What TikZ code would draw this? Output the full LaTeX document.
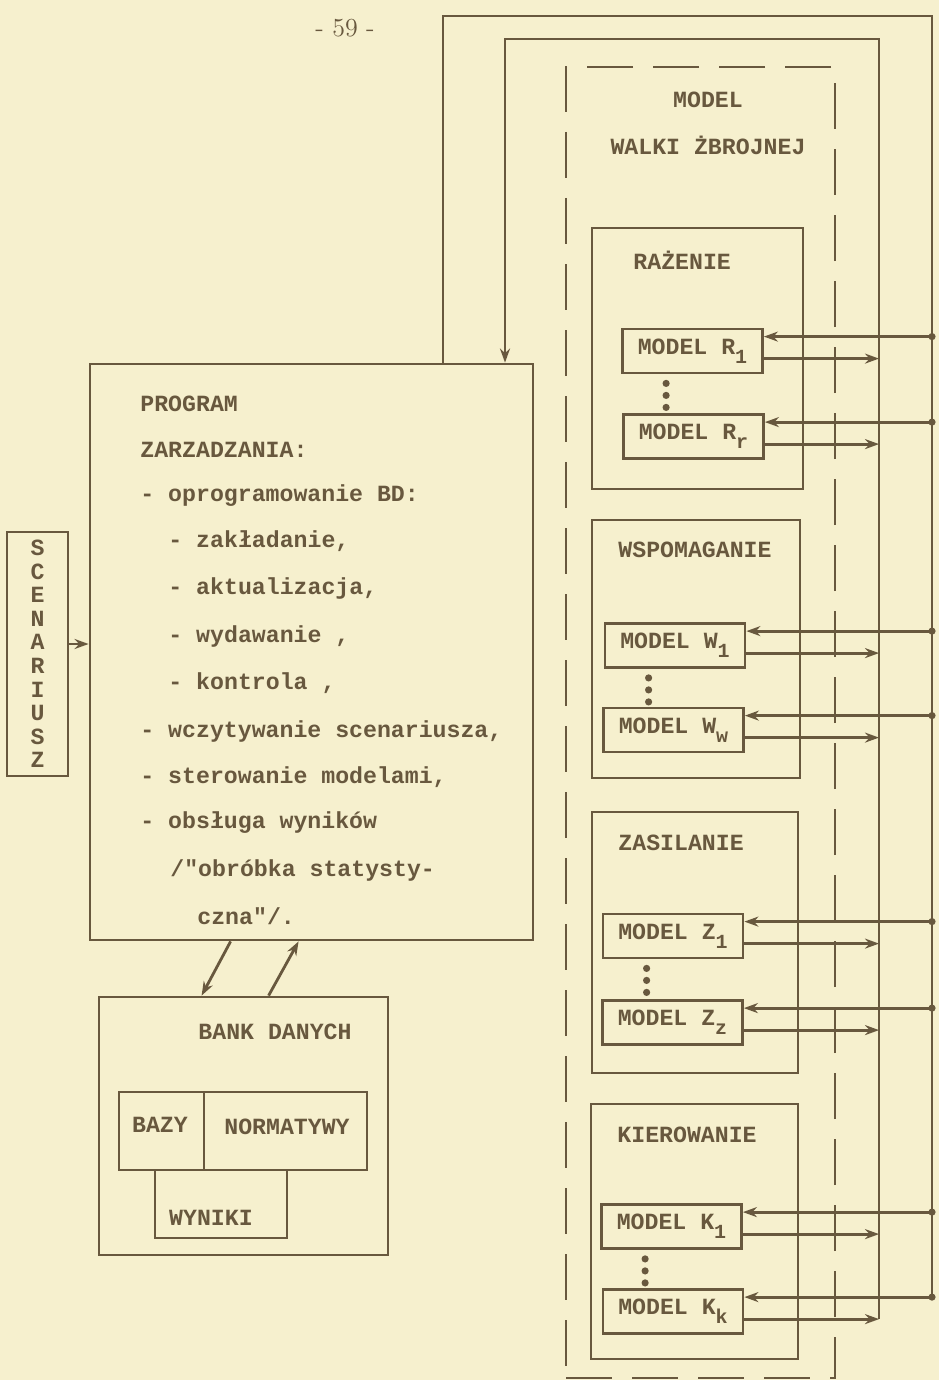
\documentclass[tikz,border=0pt]{standalone}
\usepackage{fontspec}
\setmonofont{Liberation Mono}
\usepackage{tikz}
\usetikzlibrary{arrows.meta,positioning,calc}
\definecolor{ink}{RGB}{104,88,62}
\definecolor{paper}{RGB}{246,240,206}
\newcommand{\typew}{\ttfamily\bfseries\fontsize{11.6}{14}\selectfont}
\newcommand{\mysub}[1]{\raisebox{-4.5pt}{\fontsize{10}{10}\selectfont #1}}
\tikzset{
  box/.style={draw=ink, line width=1.4pt, rectangle, inner sep=0pt},
  model/.style={box, minimum width=70pt, minimum height=22pt, text=ink, font=\typew},
  grp/.style={box, minimum width=104pt, minimum height=129pt},
  lbl/.style={text=ink, font=\typew, inner sep=0pt},
  wire/.style={draw=ink, line width=1.4pt},
  arr/.style={wire, -{Stealth[length=7pt,width=5pt]}},
}

\begin{document}
\begin{tikzpicture}[x=0.5pt,y=-0.5pt]
        \fill[paper] (0,0) rectangle (939,1380);
        \useasboundingbox (0,0) rectangle (939,1380);

        \node[lbl, font=\rmfamily\fontsize{13}{13}\selectfont] (page) at (345,28) {- 59 -};

        % Program zarzadzania
        \node[box, minimum width=221.5pt, minimum height=288pt] (prog) at (311.5,652) {};
        \foreach \x/\y/\t [count=\i] in {140/404/PROGRAM, 140/450/ZARZADZANIA:,
            140/496/{- oprogramowanie BD:}, 168/541/{- zakładanie,},
            168/588/{- aktualizacja,}, 168/636/{- wydawanie ,}, 168/683/{- kontrola ,},
            140/731/{- wczytywanie scenariusza,}, 140/777/{- sterowanie modelami,},
            140/823/{- obsługa wyników}, 170/870/{/"obróbka statysty-}, 197/916/{czna"/.}}
          \node[lbl, anchor=west] (p\i) at (\x,\y) {\t};

        % Scenariusz
        \node[box, minimum width=30.5pt, minimum height=122pt, text=ink, align=center,
          font=\ttfamily\bfseries\fontsize{11.6}{11.8}\selectfont] (scen) at (37.5,654)
          {S\\C\\E\\N\\A\\R\\I\\U\\S\\Z};
        \coordinate (scenout) at ([yshift=5pt]scen.east);
        \draw[arr] (scenout) -- (scenout -| prog.west);

        % Bank danych
        \node[box, minimum width=144.5pt, minimum height=129pt] (bank) at (243.5,1126) {};
        \node[lbl] (tbank) at (275,1032) {BANK DANYCH};
        \node[box, minimum width=42.5pt, minimum height=39pt] (bazy) at (161.5,1131) {};
        \node[box, minimum width=81.5pt, minimum height=39pt] (norm) at (285.5,1131) {};
        \node[box, minimum width=66pt, minimum height=34pt] (wyn) at (221,1204) {};
        \node[lbl] (tbazy) at (160,1125) {BAZY};
        \node[lbl] (tnorm) at (287,1127) {NORMATYWY};
        \node[lbl] (twyn) at (211,1218) {WYNIKI};

        \draw[arr] ([xshift=71pt]prog.south west) -- ([xshift=52pt]bank.north west);
        \draw[arr] ([xshift=85.5pt]bank.north west) -- ([xshift=105pt]prog.south west);

        % Model walki zbrojnej
        \node[box, dash pattern=on 23pt off 10pt, minimum width=134.5pt,
          minimum height=655.5pt] (mwz) at (700.5,722.5) {};
        \node[lbl] (tmwz1) at (708,100) {MODEL};
        \node[lbl] (tmwz2) at (708,145) {WALKI ŻBROJNEJ};

        \node[grp, minimum width=105.5pt, minimum height=130.5pt] (gR) at (697.5,358.5) {};
        \node[grp] (gW) at (696,649) {};
        \node[grp, minimum width=103pt, minimum height=130.5pt] (gZ) at (695,942.5) {};
        \node[grp, minimum width=103.5pt, minimum height=127.5pt] (gK) at (694.5,1231.5) {};
        \node[lbl, anchor=west] (tR) at (633,260) {RAŻENIE};
        \node[lbl, anchor=west] (tW) at (618,550) {WSPOMAGANIE};
        \node[lbl, anchor=west] (tZ) at (618,843) {ZASILANIE};
        \node[lbl, anchor=west] (tK) at (617,1135) {KIEROWANIE};

        \node[model] (mR1) at (692.5,351) {MODEL R\mysub{1}};
        \node[model] (mRr) at (693.5,436.5) {MODEL R\mysub{r}};
        \node[model] (mW1) at (675,645.5) {MODEL W\mysub{1}};
        \node[model] (mWw) at (673.5,730) {MODEL W\mysub{w}};
        \node[model] (mZ1) at (673,936) {MODEL Z\mysub{1}};
        \node[model] (mZz) at (672.5,1022.5) {MODEL Z\mysub{z}};
        \node[model] (mK1) at (671.5,1226.5) {MODEL K\mysub{1}};
        \node[model] (mKk) at (673,1311.5) {MODEL K\mysub{k}};

        % kropki
        \foreach \m in {mR1,mW1,mZ1,mK1}
          \foreach \d in {9,21,33}
            \fill[ink] ($(\m.south west)+(45,\d)$) circle (1.8pt);

        % petle sterowania
        \coordinate (outL) at (443,16);
        \coordinate (outR) at (932,16);
        \coordinate (inL) at (505,39);
        \coordinate (inR) at (879,39);
        \foreach \m in {mR1,mRr,mW1,mWw,mZ1,mZz,mK1,mKk} {
          \coordinate (in\m) at ([yshift=-4.5pt]\m.north east);
          \coordinate (out\m) at ([yshift=-15.5pt]\m.north east);
        }
        \draw[wire] (outL |- prog.north) -- (outL) -- (outR) -- (outR |- inmKk);
        \draw[arr] (outmKk -| inR) -- (inR) -- (inL) -- (inL |- prog.north);
        \foreach \m in {mR1,mRr,mW1,mWw,mZ1,mZz,mK1,mKk} {
          \draw[arr] (in\m -| outR) -- (in\m);
          \draw[arr] (out\m) -- (out\m -| inR);
          \fill[ink] (in\m -| outR) circle (1.8pt);
        }
\end{tikzpicture}
\end{document}
